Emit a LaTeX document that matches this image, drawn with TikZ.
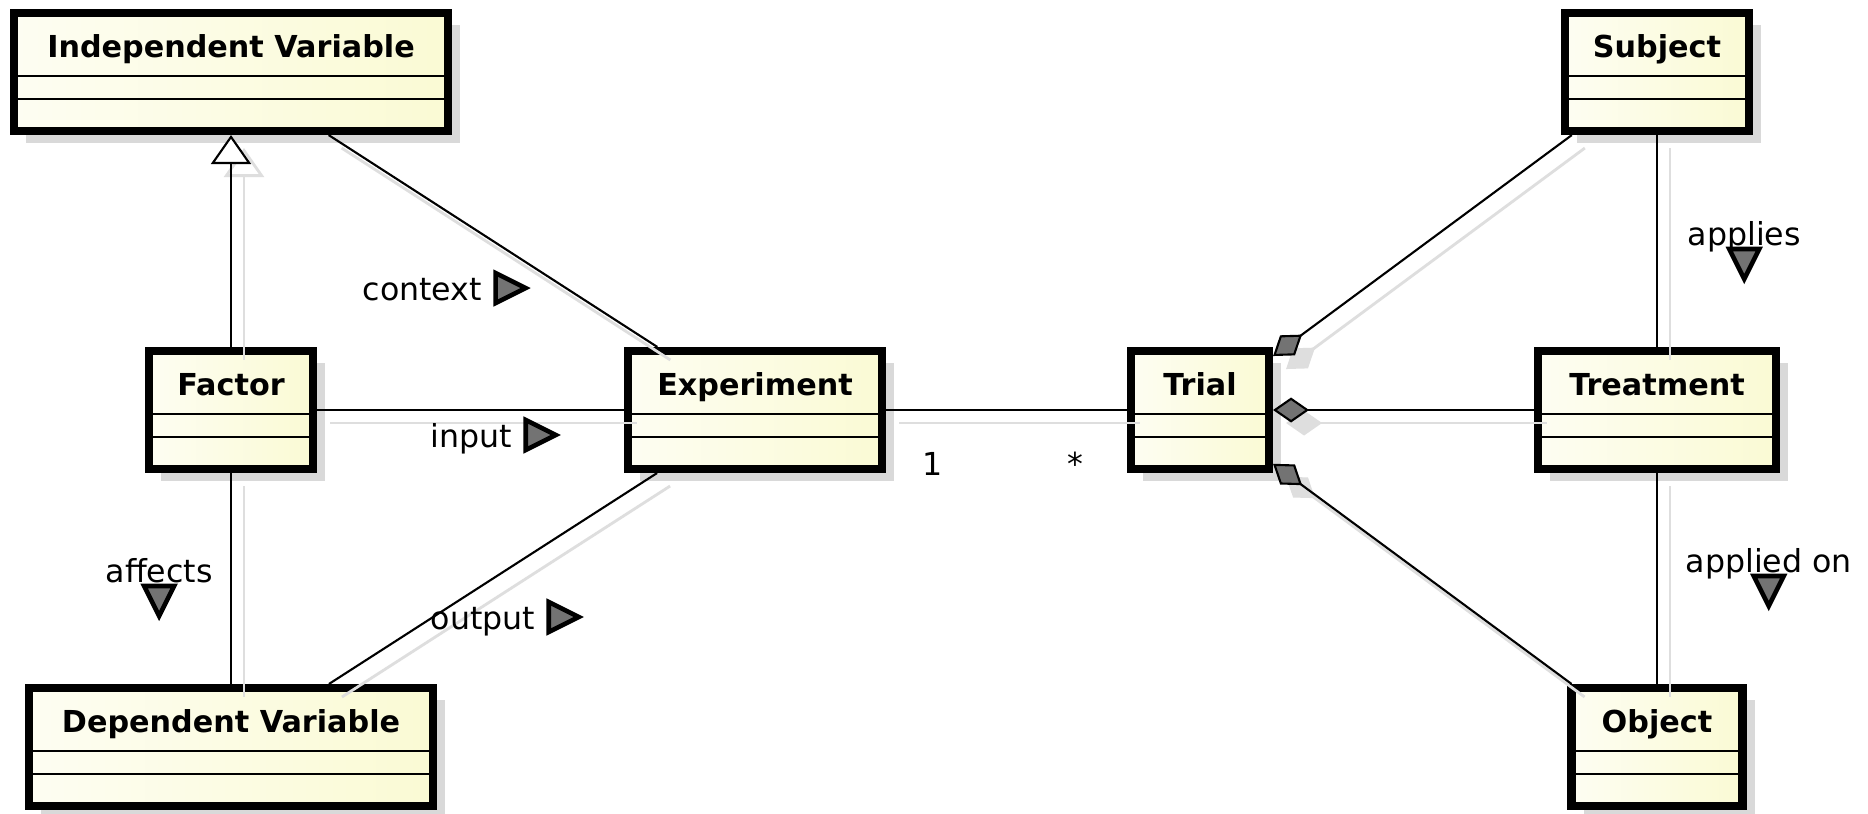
\documentclass[tikz,border=0pt]{standalone}
\usepackage{fontspec}
\setmainfont{DejaVu Sans}
\usepackage{xcolor}
\usetikzlibrary{arrows.meta,positioning,shadows}
\definecolor{classfill}{RGB}{250,250,212}

\begin{document}
\begin{tikzpicture}[
    umlclass/.style={rectangle, draw, line width=2.3pt, left color=classfill!30!white, right color=classfill,
        inner sep=0pt, text height=0.44cm, text depth=0.74cm,
        font=\fontsize{8.6pt}{10pt}\selectfont\bfseries,
        drop shadow={shadow xshift=0.12cm, shadow yshift=-0.12cm, fill=black!15, opacity=1},
        path picture={
            \draw[line width=0.6pt] ([yshift=-0.63cm]path picture bounding box.north west) -- ([yshift=-0.63cm]path picture bounding box.north east);
            \draw[line width=0.6pt] ([yshift=-0.86cm]path picture bounding box.north west) -- ([yshift=-0.86cm]path picture bounding box.north east);
        }},
    assoc/.style={draw, line width=0.6pt},
    gen/.style={assoc, -{Triangle[length=0.29cm, width=0.40cm, fill=white]}},
    comp/.style={assoc, {Diamond[length=0.36cm, width=0.25cm, fill=black!55]}-},
    lineshadow/.style={draw=black!13, line width=0.8pt, transform canvas={xshift=0.13cm, yshift=-0.13cm}},
    genshadow/.style={lineshadow, -{Triangle[open, length=0.29cm, width=0.40cm]}},
    compshadow/.style={lineshadow, {Diamond[length=0.36cm, width=0.25cm]}-},
    lbl/.style={font=\fontsize{9pt}{11pt}\selectfont, inner sep=0pt},
    dirmark/.style={draw, line width=1.3pt, fill=black!55},
]

\path[use as bounding box, fill=white] (0,0) rectangle (18.68,-8.13);

% Classes
\node[umlclass, minimum width=4.34cm] (indep) at (2.31,-0.72) {Independent Variable};
\node[umlclass, minimum width=1.64cm] (factor) at (2.31,-4.10) {Factor};
\node[umlclass, minimum width=4.04cm] (dep) at (2.31,-7.47) {Dependent Variable};
\node[umlclass, minimum width=2.54cm] (exper) at (7.55,-4.10) {Experiment};
\node[umlclass, minimum width=1.38cm] (trial) at (12.00,-4.10) {Trial};
\node[umlclass, minimum width=2.38cm] (treat) at (16.57,-4.10) {Treatment};
\node[umlclass, minimum width=1.84cm] (subj) at (16.57,-0.72) {Subject};
\node[umlclass, minimum width=1.71cm] (obj) at (16.57,-7.47) {Object};

% Connector shadows
\draw[genshadow] (factor) -- (indep);
\draw[lineshadow] (indep) -- (exper);
\draw[lineshadow] (factor) -- (exper);
\draw[lineshadow] (factor) -- (dep);
\draw[lineshadow] (exper) -- (dep);
\draw[lineshadow] (exper) -- (trial);
\draw[compshadow] (trial) -- (subj);
\draw[compshadow] (trial) -- (treat);
\draw[compshadow] (trial) -- (obj);
\draw[lineshadow] (subj) -- (treat);
\draw[lineshadow] (treat) -- (obj);

% Connectors
\draw[gen] (factor) -- (indep);
\draw[assoc] (indep) -- (exper);
\draw[assoc] (factor) -- (exper);
\draw[assoc] (factor) -- (dep);
\draw[assoc] (exper) -- (dep);
\draw[assoc] (exper) -- (trial);
\draw[comp] (trial) -- (subj);
\draw[comp] (trial) -- (treat);
\draw[comp] (trial) -- (obj);
\draw[assoc] (subj) -- (treat);
\draw[assoc] (treat) -- (obj);

% Role names
\node[lbl, anchor=base west] (ctxlbl) at (3.62,-3.00) {context};
\draw[dirmark] ([xshift=0.13cm, yshift=0.27cm]ctxlbl.base east) -- ++(0.30,-0.15) -- ++(-0.30,-0.15) -- cycle;
\node[lbl, anchor=base west] (inlbl) at (4.30,-4.47) {input};
\draw[dirmark] ([xshift=0.13cm, yshift=0.27cm]inlbl.base east) -- ++(0.30,-0.15) -- ++(-0.30,-0.15) -- cycle;
\node[lbl, anchor=base west] (outlbl) at (4.30,-6.29) {output};
\draw[dirmark] ([xshift=0.13cm, yshift=0.27cm]outlbl.base east) -- ++(0.30,-0.15) -- ++(-0.30,-0.15) -- cycle;
\node[lbl, anchor=base west] (afflbl) at (1.05,-5.82) {affects};
\draw[dirmark] ([xshift=-0.15cm, yshift=-0.04cm]afflbl.base) -- ++(0.30,0) -- ++(-0.15,-0.30) -- cycle;
\node[lbl, anchor=base west] (applbl) at (16.87,-2.45) {applies};
\draw[dirmark] ([xshift=-0.15cm, yshift=-0.04cm]applbl.base) -- ++(0.30,0) -- ++(-0.15,-0.30) -- cycle;
\node[lbl, anchor=base west] (aonlbl) at (16.85,-5.72) {applied on};
\draw[dirmark] ([xshift=-0.15cm, yshift=-0.04cm]aonlbl.base) -- ++(0.30,0) -- ++(-0.15,-0.30) -- cycle;

% Multiplicities
\node[lbl, anchor=base west] (oneexp) at (9.22,-4.75) {1};
\node[lbl, anchor=base west] (manytri) at (10.67,-4.75) {*};

\end{tikzpicture}
\end{document}
